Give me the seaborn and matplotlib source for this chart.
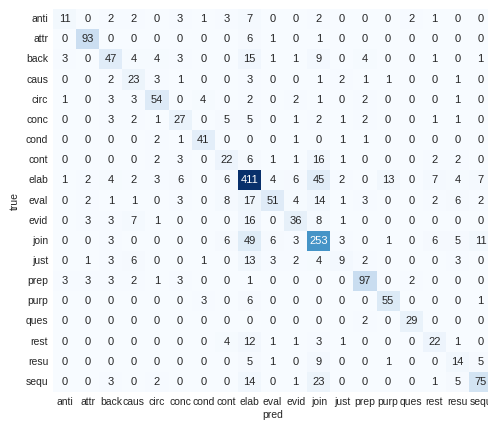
import numpy as np
import pandas as pd
import seaborn as sns
import matplotlib.pyplot as plt

LABELS = ["anti", "attr", "back", "caus", "circ", "conc", "cond", "cont", "elab", "eval",
          "evid", "join", "just", "prep", "purp", "ques", "rest", "resu", "sequ"]

# rows = true, columns = pred
anti = [11, 0, 2, 2, 0, 3, 1, 3, 7, 0, 0, 2, 0, 0, 0, 2, 1, 0, 0]
attr = [0, 93, 0, 0, 0, 0, 0, 0, 6, 1, 0, 1, 0, 0, 0, 0, 0, 0, 0]
back = [3, 0, 47, 4, 4, 3, 0, 0, 15, 1, 1, 9, 0, 4, 0, 0, 1, 0, 1]
caus = [0, 0, 2, 23, 3, 1, 0, 0, 3, 0, 0, 1, 2, 1, 1, 0, 0, 1, 0]
circ = [1, 0, 3, 3, 54, 0, 4, 0, 2, 0, 2, 1, 0, 2, 0, 0, 0, 1, 0]
conc = [0, 0, 3, 2, 1, 27, 0, 5, 5, 0, 1, 2, 1, 2, 0, 0, 1, 1, 0]
cond = [0, 0, 0, 0, 2, 1, 41, 0, 0, 0, 1, 0, 1, 1, 0, 0, 0, 0, 0]
cont = [0, 0, 0, 0, 2, 3, 0, 22, 6, 1, 1, 16, 1, 0, 0, 0, 2, 2, 0]
elab = [1, 2, 4, 2, 3, 6, 0, 6, 411, 4, 6, 45, 2, 0, 13, 0, 7, 4, 7]
eval_ = [0, 2, 1, 1, 0, 3, 0, 8, 17, 51, 4, 14, 1, 3, 0, 0, 2, 6, 2]
evid = [0, 3, 3, 7, 1, 0, 0, 0, 16, 0, 36, 8, 1, 0, 0, 0, 0, 0, 0]
join = [0, 0, 3, 0, 0, 0, 0, 6, 49, 6, 3, 253, 3, 0, 1, 0, 6, 5, 11]
just = [0, 1, 3, 6, 0, 0, 1, 0, 13, 3, 2, 4, 9, 2, 0, 0, 0, 3, 0]
prep = [3, 3, 3, 2, 1, 3, 0, 0, 1, 0, 0, 0, 0, 97, 0, 2, 0, 0, 0]
purp = [0, 0, 0, 0, 0, 0, 3, 0, 6, 0, 0, 0, 0, 0, 55, 0, 0, 0, 1]
ques = [0, 0, 0, 0, 0, 0, 0, 0, 0, 0, 0, 0, 0, 2, 0, 29, 0, 0, 0]
rest = [0, 0, 0, 0, 0, 0, 0, 4, 12, 1, 1, 3, 1, 0, 0, 0, 22, 1, 0]
resu = [0, 0, 0, 0, 0, 0, 0, 0, 5, 1, 0, 9, 0, 0, 1, 0, 0, 14, 5]
sequ = [0, 0, 3, 0, 2, 0, 0, 0, 14, 0, 1, 23, 0, 0, 0, 0, 1, 5, 75]

rows = [anti, attr, back, caus, circ, conc, cond, cont, elab, eval_,
        evid, join, just, prep, purp, ques, rest, resu, sequ]

cm = pd.DataFrame(np.array(rows), index=LABELS, columns=LABELS)

sns.set_theme(style="white")
plt.rcParams["font.family"] = ["Liberation Sans", "DejaVu Sans"]

fig = plt.figure(figsize=(4.89, 4.23), dpi=100)
# heatmap runs a little past the right edge, as in the reference
ax = fig.add_axes([0.1084, 0.0733, 0.898, 0.9054])
sns.heatmap(cm, annot=True, fmt="d", cmap="Blues", cbar=False, ax=ax,
            annot_kws={"fontsize": 8})
ax.set_xlabel("pred", fontsize=7.5, labelpad=2)
ax.set_ylabel("true", fontsize=7.5)
ax.tick_params(axis="both", length=0, labelsize=7.5)
plt.setp(ax.get_xticklabels(), rotation=0)
plt.setp(ax.get_yticklabels(), rotation=0)

fig.savefig("out.png", dpi=100)
